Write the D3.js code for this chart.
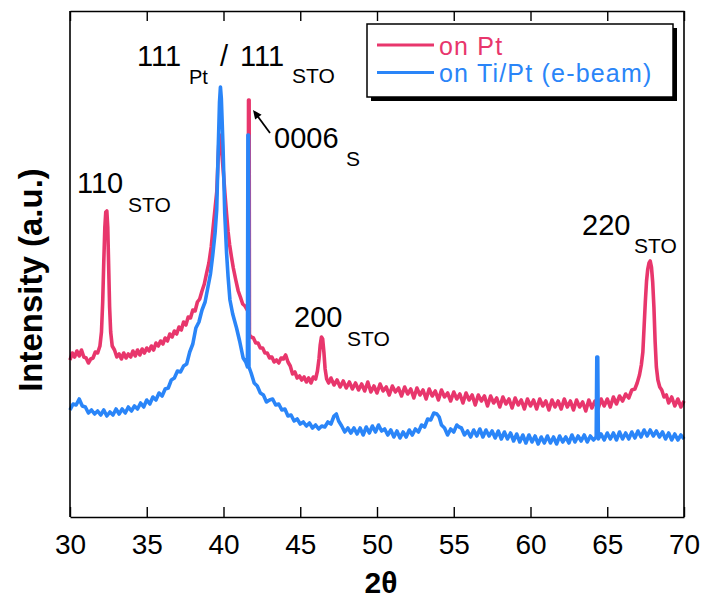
<!DOCTYPE html>
<html><head><meta charset="utf-8">
<script src="https://cdn.jsdelivr.net/npm/d3@7"></script>
<style>body{margin:0;background:#fff}</style>
</head><body>
<svg id="c" width="704" height="606"></svg>
<script>
// ---- data ----
const xTicks = [30,35,40,45,50,55,60,65,70];
const seriesNames = ["on Pt","on Ti/Pt (e-beam)"];
const seriesColors = ["#e8366c","#2a85f8"];
// [2theta, intensity (a.u.)]
const onPt = [
[30.0,157],[30.15,164],[30.3,160],[30.45,166],[30.6,161],[30.75,167],[30.9,160],[31.05,159],[31.2,154],[31.35,158],[31.5,159],[31.65,165],[31.8,164],[31.95,171],
[32.05,185],[32.13,215],[32.2,255],[32.27,290],[32.33,305],[32.4,306],[32.46,290],[32.52,250],[32.58,210],[32.65,185],[32.75,171],[32.9,167],
[33.05,160],[33.2,163],[33.35,158],[33.5,164],[33.65,159],[33.8,163],[33.95,160],[34.1,166],[34.25,161],[34.4,167],[34.55,162],[34.7,168],[34.85,164],
[35.0,169],[35.15,166],[35.3,171],[35.45,167],[35.6,174],[35.75,171],[35.9,176],[36.05,173],[36.2,179],[36.35,176],[36.5,183],[36.65,180],[36.8,186],
[36.95,183],[37.1,190],[37.25,187],[37.4,195],[37.55,192],[37.7,200],[37.85,199],[38.0,207],[38.15,206],[38.3,215],[38.45,218],[38.6,226],[38.75,233],
[38.9,244],[39.05,254],[39.2,270],[39.34,292],[39.46,310],[39.56,325],[39.64,355],[39.7,375],[39.76,382],[39.82,376],[39.9,362],[40.0,343],[40.1,322],
[40.2,303],[40.3,285],[40.4,272],[40.52,260],[40.64,249],[40.8,237],[40.96,226],[41.1,220],[41.25,213],[41.4,211],[41.55,207],[41.61,208],
[41.63,417],[41.67,417],[41.69,182],[41.8,180],[41.95,179],[42.1,174],[42.25,174],[42.4,169],[42.55,169],[42.7,164],[42.85,164],[43.0,159],[43.15,160],
[43.3,155],[43.45,157],[43.6,154],[43.75,159],[43.9,158],[44.05,162],[44.2,155],[44.35,151],[44.5,143],[44.65,145],[44.8,139],[44.95,141],[45.1,137],
[45.25,140],[45.4,135],[45.55,139],[45.7,134],[45.85,140],[46.0,138],[46.12,146],[46.22,158],[46.3,172],[46.38,180],[46.46,178],[46.54,165],[46.62,148],
[46.72,138],[46.85,134],[47.0,139],[47.2,132],[47.4,137],[47.6,130],[47.8,136],[48.0,129],[48.2,135],[48.4,128],[48.6,134],[48.8,127],[49.0,133],
[49.2,126],[49.4,135],[49.6,125],[49.8,131],[50.0,124],[50.2,133],[50.4,126],[50.6,130],[50.8,122],[51.0,131],[51.2,125],[51.4,129],[51.6,121],[51.8,130],
[52.0,123],[52.2,128],[52.4,119],[52.6,129],[52.8,122],[53.0,127],[53.2,118],[53.4,128],[53.6,121],[53.8,126],[54.0,117],[54.2,127],[54.4,120],[54.6,124],
[54.8,116],[55.0,125],[55.2,118],[55.4,123],[55.6,114],[55.8,124],[56.0,117],[56.2,122],[56.4,112],[56.6,122],[56.8,116],[57.0,121],[57.2,111],[57.4,121],
[57.6,114],[57.8,119],[58.0,110],[58.2,120],[58.4,113],[58.6,118],[58.8,109],[59.0,119],[59.2,112],[59.4,117],[59.6,108],[59.8,118],[60.0,111],[60.2,117],
[60.4,108],[60.6,118],[60.8,111],[61.0,116],[61.2,107],[61.4,117],[61.6,110],[61.8,116],[62.0,108],[62.2,118],[62.4,110],[62.6,116],[62.8,107],[63.0,117],
[63.2,110],[63.4,115],[63.6,106],[63.8,117],[64.0,109],[64.2,116],[64.4,108],[64.6,118],[64.8,111],[65.0,118],[65.2,110],[65.4,120],[65.6,113],[65.8,121],
[66.0,116],[66.2,123],[66.4,119],[66.6,127],[66.8,128],[66.95,134],[67.1,142],[67.22,152],[67.32,165],[67.4,190],[67.48,215],[67.56,236],[67.64,248],
[67.72,254],[67.8,256],[67.88,250],[67.96,235],[68.04,210],[68.12,175],[68.2,150],[68.3,137],[68.42,130],[68.55,127],[68.7,120],[68.85,122],[69.0,114],
[69.2,120],[69.4,111],[69.6,118],[69.8,110],[70.0,116]
];
const onTiPt = [
[30.0,107],[30.2,113],[30.4,112],[30.6,118],[30.8,111],[31.0,110],[31.2,104],[31.4,107],[31.6,103],[31.8,106],[32.0,102],[32.2,107],[32.4,101],[32.6,105],
[32.8,102],[33.0,108],[33.2,103],[33.4,108],[33.6,104],[33.8,110],[34.0,106],[34.2,111],[34.4,108],[34.6,114],[34.8,110],[35.0,117],[35.2,113],[35.4,120],
[35.6,117],[35.8,124],[36.0,121],[36.2,128],[36.4,129],[36.6,137],[36.8,139],[37.0,146],[37.2,145],[37.4,151],[37.6,153],[37.8,165],[38.0,173],[38.2,189],
[38.4,195],[38.6,207],[38.8,215],[39.0,231],[39.15,243],[39.3,262],[39.45,284],[39.56,308],[39.66,370],[39.74,415],[39.8,430],[39.86,418],[39.97,370],
[40.08,304],[40.2,264],[40.3,240],[40.42,217],[40.6,203],[40.85,189],[41.05,176],[41.28,159],[41.45,155],[41.56,150],[41.59,382],[41.63,382],[41.66,150],
[41.8,144],[42.0,134],[42.2,131],[42.4,124],[42.6,122],[42.8,115],[43.0,117],[43.2,118],[43.4,112],[43.6,113],[43.8,107],[44.0,108],[44.2,101],[44.4,102],
[44.6,96],[44.8,98],[45.0,93],[45.2,95],[45.4,91],[45.6,94],[45.8,89],[46.0,92],[46.2,88],[46.4,91],[46.6,90],[46.8,95],[47.0,93],[47.2,101],[47.35,103],
[47.5,96],[47.7,91],[47.9,85],[48.1,89],[48.3,84],[48.5,89],[48.7,83],[48.9,89],[49.1,82],[49.3,90],[49.5,84],[49.7,91],[49.9,85],[50.1,92],[50.3,86],
[50.5,88],[50.7,82],[50.9,87],[51.1,80],[51.3,86],[51.5,79],[51.7,85],[51.9,80],[52.1,87],[52.3,82],[52.5,88],[52.7,85],[52.9,92],[53.1,90],[53.3,98],
[53.5,97],[53.7,104],[53.9,103],[54.05,100],[54.2,92],[54.4,89],[54.6,82],[54.8,88],[55.0,85],[55.2,92],[55.35,90],[55.5,89],[55.7,82],[55.9,86],[56.1,80],
[56.3,87],[56.5,81],[56.7,88],[56.9,80],[57.1,87],[57.3,81],[57.5,86],[57.7,79],[57.9,86],[58.1,78],[58.3,85],[58.5,78],[58.7,84],[58.9,76],[59.1,83],
[59.3,75],[59.5,82],[59.7,74],[59.9,82],[60.1,75],[60.3,81],[60.5,73],[60.7,80],[60.9,74],[61.1,81],[61.3,74],[61.5,80],[61.7,73],[61.9,81],[62.1,75],
[62.3,80],[62.5,74],[62.7,82],[62.9,75],[63.1,81],[63.3,76],[63.5,82],[63.7,75],[63.9,81],[64.1,77],[64.28,80],[64.32,160],[64.38,160],[64.42,78],
[64.6,83],[64.8,77],[65.0,84],[65.2,78],[65.4,84],[65.6,77],[65.8,85],[66.0,78],[66.2,84],[66.4,78],[66.6,85],[66.8,79],[67.0,86],[67.2,80],[67.4,87],
[67.6,81],[67.8,87],[68.0,81],[68.2,86],[68.4,80],[68.6,85],[68.8,78],[69.0,84],[69.2,77],[69.4,83],[69.6,77],[69.8,82],[70.0,78]
];

// ---- drawing ----
const FONT = "'Liberation Sans', Arial, Helvetica, sans-serif";
const svg = d3.select("#c").style("font-family", FONT);
const L = 70, R = 684, T = 11, B = 517;
const x = d3.scaleLinear().domain([30,70]).range([L,R]);
const y = d3.scaleLinear().domain([0,506]).range([B,T]);

const line = d3.line().x(d => x(d[0])).y(d => y(d[1]));
[onPt, onTiPt].forEach((s,i) => {
  svg.append("path").datum(s).attr("d", line)
    .attr("fill","none").attr("stroke", seriesColors[i])
    .attr("stroke-width", 3.6).attr("stroke-linejoin","round");
});

// axes
const gx = svg.append("g").attr("transform",`translate(0,${B})`)
  .call(d3.axisBottom(x).tickValues(xTicks).tickSizeInner(-10).tickSizeOuter(0).tickFormat(d3.format("d")));
gx.attr("font-family", FONT).attr("font-size", 28);
gx.selectAll(".tick text").attr("y", 37).attr("dy", null).attr("fill","#000");
const gt = svg.append("g").attr("transform",`translate(0,${T})`)
  .call(d3.axisTop(x).tickValues(xTicks).tickSizeInner(-10).tickSizeOuter(0).tickFormat(""));
[gx, gt].forEach(g => {
  g.select(".domain").attr("stroke","#000").attr("stroke-width",1.6);
  g.selectAll(".tick line").attr("stroke","#000").attr("stroke-width",1.4);
});
svg.append("line").attr("x1",L).attr("x2",L).attr("y1",T).attr("y2",B).attr("stroke","#000").attr("stroke-width",1.6);
svg.append("line").attr("x1",R).attr("x2",R).attr("y1",T).attr("y2",B).attr("stroke","#000").attr("stroke-width",1.6);

// axis titles
svg.append("text").attr("x", 381).attr("y", 593).attr("text-anchor","middle")
  .attr("font-size", 30).attr("font-weight","bold").text("2θ");
svg.append("text").attr("transform","translate(42,280) rotate(-90)").attr("text-anchor","middle")
  .attr("font-size", 33).attr("font-weight","bold").text("Intensity (a.u.)");

// peak labels
function label(parts){
  const t = svg.append("text").attr("fill","#000");
  parts.forEach(p => t.append("tspan").attr("x",p[1]).attr("y",p[2]).attr("font-size",p[3]).text(p[0]));
}
label([["111",137,66,29],["Pt",189,84,20],["/",220,66,29],["111",240,66,29],["STO",292,83,21]]);
label([["0006",274,148,29],["S",346,166,21]]);
label([["110",77,193,29],["STO",128,212,21]]);
label([["200",294,327,29],["STO",347,346,21]]);
label([["220",582,235,29],["STO",634,253,21]]);

// arrow to 0006 peak
const ax1 = 270, ay1 = 133, ax2 = 253, ay2 = 110;
const ang = Math.atan2(ay2-ay1, ax2-ax1), hl = 9, hw = 4;
svg.append("line").attr("x1",ax1).attr("y1",ay1)
  .attr("x2",ax2 - Math.cos(ang)*hl*0.8).attr("y2",ay2 - Math.sin(ang)*hl*0.8)
  .attr("stroke","#000").attr("stroke-width",1.8);
const bx = ax2 - Math.cos(ang)*hl, by = ay2 - Math.sin(ang)*hl;
svg.append("path").attr("d",
  `M${ax2},${ay2}L${bx - Math.sin(ang)*hw},${by + Math.cos(ang)*hw}L${bx + Math.sin(ang)*hw},${by - Math.cos(ang)*hw}Z`)
  .attr("fill","#000");

// legend
const lg = svg.append("g");
lg.append("rect").attr("x",371).attr("y",28).attr("width",306).attr("height",73).attr("fill","#000");
lg.append("rect").attr("x",367).attr("y",24).attr("width",306).attr("height",73).attr("fill","#fff").attr("stroke","#000").attr("stroke-width",1.5);
seriesNames.forEach((n,i) => {
  const yy = 45 + i*27.5;
  lg.append("line").attr("x1",377).attr("x2",434).attr("y1",yy).attr("y2",yy)
    .attr("stroke",seriesColors[i]).attr("stroke-width",3);
  lg.append("text").attr("x",439).attr("y",yy+9.5).attr("font-size",25)
    .attr("letter-spacing",1.2).attr("fill",seriesColors[i]).text(n);
});
</script>
</body></html>
